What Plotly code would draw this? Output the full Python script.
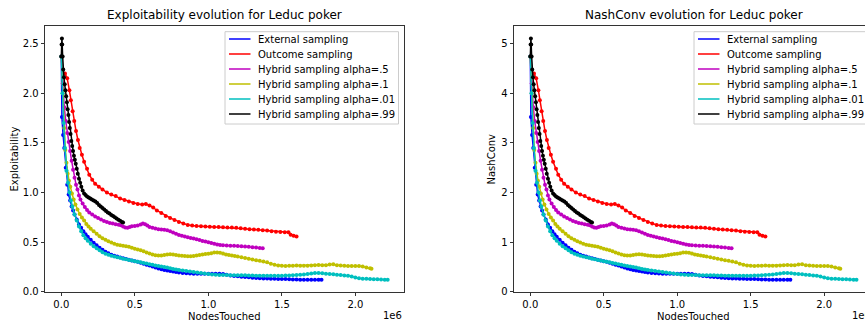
import plotly.graph_objects as go

# x values in millions of nodes touched, y = exploitability
external = [(0.000,2.37),(0.004,1.76),(0.012,1.58),(0.020,1.45),(0.030,1.25),(0.040,1.08),(0.050,0.98),(0.060,0.92),(0.070,0.86),(0.080,0.82),(0.090,0.78),(0.105,0.73),(0.120,0.68),(0.135,0.645),(0.150,0.61),(0.165,0.58),(0.180,0.555),(0.200,0.525),(0.220,0.495),(0.240,0.47),(0.260,0.445),(0.280,0.425),(0.300,0.405),(0.320,0.39),(0.340,0.375),(0.360,0.365),(0.380,0.357),(0.400,0.348),(0.420,0.34),(0.440,0.332),(0.460,0.324),(0.480,0.317),(0.500,0.31),(0.520,0.303),(0.540,0.295),(0.560,0.285),(0.580,0.275),(0.600,0.265),(0.620,0.255),(0.640,0.245),(0.660,0.236),(0.680,0.228),(0.700,0.221),(0.720,0.215),(0.740,0.21),(0.760,0.205),(0.780,0.2),(0.800,0.196),(0.825,0.192),(0.850,0.188),(0.875,0.185),(0.900,0.183),(0.925,0.183),(0.950,0.183),(0.975,0.183),(1.000,0.183),(1.025,0.184),(1.050,0.184),(1.075,0.183),(1.100,0.18),(1.125,0.174),(1.150,0.166),(1.175,0.16),(1.200,0.157),(1.225,0.154),(1.250,0.15),(1.275,0.147),(1.300,0.143),(1.325,0.14),(1.350,0.138),(1.375,0.136),(1.400,0.136),(1.425,0.134),(1.450,0.133),(1.475,0.131),(1.500,0.13),(1.525,0.13),(1.550,0.128),(1.575,0.126),(1.600,0.125),(1.625,0.124),(1.650,0.123),(1.675,0.123),(1.700,0.123),(1.725,0.123),(1.750,0.123),(1.770,0.123)]

outcome = [(0.025,2.20),(0.040,2.15),(0.055,2.03),(0.065,1.93),(0.077,1.82),(0.088,1.72),(0.100,1.62),(0.113,1.53),(0.125,1.45),(0.140,1.38),(0.155,1.31),(0.175,1.24),(0.190,1.18),(0.210,1.13),(0.230,1.09),(0.255,1.06),(0.280,1.03),(0.310,1.00),(0.340,0.98),(0.370,0.965),(0.400,0.94),(0.430,0.925),(0.460,0.91),(0.490,0.895),(0.520,0.885),(0.550,0.88),(0.575,0.885),(0.600,0.87),(0.625,0.85),(0.650,0.82),(0.680,0.795),(0.710,0.765),(0.740,0.745),(0.770,0.725),(0.800,0.705),(0.830,0.69),(0.860,0.675),(0.890,0.668),(0.920,0.665),(0.950,0.662),(0.980,0.66),(1.010,0.657),(1.040,0.655),(1.070,0.653),(1.100,0.652),(1.130,0.65),(1.160,0.648),(1.190,0.645),(1.220,0.64),(1.250,0.636),(1.280,0.632),(1.310,0.628),(1.340,0.625),(1.370,0.622),(1.400,0.618),(1.430,0.612),(1.460,0.607),(1.490,0.604),(1.520,0.602),(1.545,0.600),(1.560,0.575),(1.580,0.565),(1.600,0.557)]

hybrid_05 = [(0.000,2.37),(0.010,2.10),(0.020,1.86),(0.030,1.72),(0.040,1.60),(0.050,1.51),(0.060,1.42),(0.070,1.32),(0.080,1.23),(0.090,1.15),(0.100,1.08),(0.110,1.03),(0.120,0.97),(0.130,0.93),(0.145,0.89),(0.160,0.855),(0.175,0.825),(0.190,0.80),(0.210,0.78),(0.230,0.76),(0.250,0.745),(0.270,0.73),(0.290,0.715),(0.310,0.703),(0.330,0.695),(0.350,0.688),(0.370,0.682),(0.390,0.676),(0.405,0.672),(0.420,0.66),(0.435,0.648),(0.450,0.645),(0.465,0.655),(0.480,0.662),(0.500,0.665),(0.520,0.668),(0.540,0.68),(0.555,0.688),(0.570,0.682),(0.585,0.668),(0.600,0.655),(0.620,0.645),(0.640,0.638),(0.660,0.632),(0.680,0.628),(0.700,0.625),(0.720,0.62),(0.740,0.61),(0.760,0.598),(0.780,0.585),(0.800,0.574),(0.820,0.565),(0.840,0.557),(0.860,0.55),(0.880,0.543),(0.900,0.537),(0.920,0.53),(0.940,0.522),(0.960,0.514),(0.980,0.508),(1.000,0.5),(1.020,0.492),(1.040,0.485),(1.060,0.478),(1.080,0.473),(1.100,0.47),(1.125,0.467),(1.150,0.465),(1.175,0.464),(1.200,0.463),(1.225,0.46),(1.250,0.457),(1.275,0.454),(1.300,0.451),(1.325,0.447),(1.350,0.443),(1.370,0.44)]

hybrid_01 = [(0.000,2.37),(0.010,2.00),(0.020,1.65),(0.027,1.43),(0.035,1.30),(0.043,1.19),(0.052,1.12),(0.061,1.06),(0.072,0.99),(0.084,0.93),(0.096,0.88),(0.110,0.83),(0.125,0.785),(0.140,0.75),(0.155,0.72),(0.170,0.685),(0.185,0.66),(0.200,0.635),(0.220,0.61),(0.240,0.585),(0.260,0.56),(0.280,0.54),(0.300,0.525),(0.320,0.51),(0.340,0.497),(0.360,0.485),(0.380,0.476),(0.400,0.47),(0.420,0.465),(0.440,0.46),(0.460,0.455),(0.480,0.445),(0.500,0.436),(0.520,0.427),(0.540,0.42),(0.560,0.41),(0.580,0.398),(0.600,0.388),(0.620,0.378),(0.640,0.37),(0.660,0.367),(0.680,0.368),(0.700,0.372),(0.720,0.376),(0.740,0.379),(0.760,0.378),(0.780,0.373),(0.800,0.368),(0.820,0.365),(0.840,0.362),(0.860,0.36),(0.880,0.36),(0.900,0.362),(0.920,0.368),(0.940,0.373),(0.960,0.378),(0.980,0.382),(1.000,0.385),(1.020,0.39),(1.040,0.396),(1.060,0.398),(1.080,0.394),(1.100,0.387),(1.120,0.378),(1.140,0.372),(1.160,0.367),(1.180,0.362),(1.200,0.357),(1.225,0.35),(1.250,0.342),(1.275,0.335),(1.300,0.327),(1.325,0.32),(1.350,0.313),(1.375,0.307),(1.400,0.298),(1.425,0.285),(1.450,0.273),(1.475,0.267),(1.500,0.264),(1.525,0.262),(1.550,0.263),(1.575,0.264),(1.600,0.265),(1.625,0.264),(1.650,0.263),(1.675,0.263),(1.700,0.265),(1.725,0.268),(1.750,0.272),(1.775,0.27),(1.800,0.268),(1.825,0.276),(1.850,0.278),(1.875,0.27),(1.900,0.265),(1.925,0.263),(1.950,0.262),(1.975,0.262),(2.000,0.262),(2.025,0.26),(2.050,0.255),(2.075,0.247),(2.100,0.238),(2.110,0.233)]

hybrid_001 = [(0.000,2.37),(0.008,2.00),(0.016,1.70),(0.025,1.45),(0.035,1.22),(0.045,1.10),(0.055,1.00),(0.065,0.92),(0.075,0.86),(0.090,0.78),(0.105,0.72),(0.120,0.66),(0.135,0.61),(0.150,0.57),(0.165,0.54),(0.180,0.515),(0.200,0.485),(0.220,0.46),(0.240,0.44),(0.260,0.42),(0.280,0.40),(0.300,0.385),(0.320,0.375),(0.340,0.365),(0.360,0.358),(0.380,0.35),(0.400,0.343),(0.420,0.335),(0.440,0.328),(0.460,0.322),(0.480,0.316),(0.500,0.31),(0.520,0.304),(0.540,0.298),(0.560,0.292),(0.580,0.287),(0.600,0.28),(0.620,0.273),(0.640,0.266),(0.660,0.26),(0.680,0.255),(0.700,0.25),(0.720,0.245),(0.740,0.239),(0.760,0.232),(0.780,0.227),(0.800,0.222),(0.825,0.216),(0.850,0.21),(0.875,0.205),(0.900,0.2),(0.925,0.195),(0.950,0.19),(0.975,0.185),(1.000,0.18),(1.025,0.176),(1.050,0.173),(1.075,0.171),(1.100,0.17),(1.125,0.17),(1.150,0.169),(1.175,0.168),(1.200,0.168),(1.225,0.168),(1.250,0.168),(1.275,0.166),(1.300,0.165),(1.325,0.164),(1.350,0.163),(1.375,0.163),(1.400,0.163),(1.425,0.162),(1.450,0.162),(1.475,0.163),(1.500,0.164),(1.525,0.165),(1.550,0.166),(1.575,0.167),(1.600,0.17),(1.625,0.173),(1.650,0.176),(1.675,0.18),(1.700,0.185),(1.725,0.19),(1.750,0.19),(1.775,0.187),(1.800,0.184),(1.825,0.18),(1.850,0.177),(1.875,0.174),(1.900,0.17),(1.925,0.166),(1.950,0.163),(1.975,0.155),(2.000,0.145),(2.025,0.137),(2.050,0.134),(2.075,0.132),(2.100,0.13),(2.125,0.129),(2.150,0.128),(2.175,0.126),(2.200,0.124),(2.220,0.123)]

hybrid_099 = [(0.000,2.37),(0.002,2.49),(0.004,2.55),(0.006,2.49),(0.009,2.37),(0.013,2.24),(0.018,2.16),(0.023,2.09),(0.028,2.03),(0.033,1.97),(0.038,1.91),(0.043,1.84),(0.048,1.78),(0.053,1.71),(0.058,1.65),(0.063,1.59),(0.068,1.52),(0.074,1.47),(0.080,1.42),(0.086,1.37),(0.092,1.33),(0.098,1.29),(0.105,1.24),(0.112,1.19),(0.120,1.14),(0.128,1.10),(0.136,1.06),(0.145,1.02),(0.155,0.99),(0.165,0.975),(0.175,0.96),(0.186,0.95),(0.197,0.94),(0.208,0.93),(0.220,0.92),(0.232,0.91),(0.244,0.895),(0.256,0.875),(0.268,0.86),(0.280,0.845),(0.292,0.83),(0.304,0.815),(0.316,0.80),(0.328,0.79),(0.340,0.775),(0.352,0.765),(0.364,0.752),(0.376,0.74),(0.388,0.728),(0.400,0.716),(0.412,0.705),(0.420,0.70)]

series_names = ["External sampling", "Outcome sampling", "Hybrid sampling alpha=.5",
                "Hybrid sampling alpha=.1", "Hybrid sampling alpha=.01", "Hybrid sampling alpha=.99"]
series_data = [external, outcome, hybrid_05, hybrid_01, hybrid_001, hybrid_099]
series_colors = ["#0000ff", "#ff0000", "#bf00bf", "#bfbf00", "#00bfbf", "#000000"]

x_ticks = [0.0, 0.5, 1.0, 1.5, 2.0]
y_ticks_expl = [0.0, 0.5, 1.0, 1.5, 2.0, 2.5]
y_ticks_nash = [0, 1, 2, 3, 4, 5]

FONT = "DejaVu Sans"
W, H = 865, 324
ML, MR, MT, MB = 45, 0, 26, 32
PW, PH = W - ML - MR, H - MT - MB
OFFSET = 469  # horizontal pixel offset of the right panel

def px(xp):
    return (xp - ML) / PW

def py(yp):
    return (H - MB - yp) / PH

fig = go.Figure()
for name, data, color in zip(series_names, series_data, series_colors):
    xs = [p[0] for p in data]
    ys = [p[1] for p in data]
    # NashConv of a two-player zero-sum game is twice its exploitability
    ys_nash = [2 * v for v in ys]
    fig.add_trace(go.Scatter(x=xs, y=ys, mode="lines+markers", name=name,
                             line=dict(color=color, width=1.5),
                             marker=dict(color=color, size=4),
                             xaxis="x", yaxis="y", showlegend=False))
    fig.add_trace(go.Scatter(x=xs, y=ys_nash, mode="lines+markers", name=name,
                             line=dict(color=color, width=1.5),
                             marker=dict(color=color, size=4),
                             xaxis="x2", yaxis="y2", showlegend=False))

axis_common = dict(showgrid=False, zeroline=False, showline=True, linecolor="#000000",
                   linewidth=0.8, ticks="outside", ticklen=3.5, tickwidth=0.8,
                   tickcolor="#000000", tickfont=dict(family=FONT, size=10, color="#000000"))

fig.update_layout(
    width=W, height=H,
    margin=dict(l=ML, r=MR, t=MT, b=MB, autoexpand=False),
    paper_bgcolor="white", plot_bgcolor="white",
    font=dict(family=FONT, size=10, color="#000000"),
    xaxis=dict(domain=[0, px(404)], range=[-0.111, 2.331], tickvals=x_ticks,
               ticktext=[f"{v:.1f}" for v in x_ticks], mirror=True, anchor="y", **axis_common),
    yaxis=dict(domain=[0, 1], range=[-0.0005, 2.677], tickvals=y_ticks_expl,
               ticktext=[f"{v:.1f}" for v in y_ticks_expl], mirror=True, anchor="x", **axis_common),
    xaxis2=dict(domain=[px(45 + OFFSET), 1.0], range=[-0.111, 2.278], tickvals=x_ticks,
                ticktext=[f"{v:.1f}" for v in x_ticks], mirror=True, anchor="y2", **axis_common),
    yaxis2=dict(domain=[0, 1], range=[-0.001, 5.354], tickvals=y_ticks_nash,
                ticktext=[str(v) for v in y_ticks_nash], mirror=False, anchor="x2", **axis_common),
    showlegend=False,
)

ann = []
shapes = []
def add_text(text, xp, yp, size=10, angle=0, xanchor="center"):
    ann.append(dict(text=text, x=px(xp), y=py(yp), xref="paper", yref="paper",
                    xanchor=xanchor, yanchor="middle", showarrow=False, textangle=angle,
                    font=dict(family=FONT, size=size, color="#000000")))

add_text("Exploitability evolution for Leduc poker", 224.5, 15, size=12)
add_text("NashConv evolution for Leduc poker", 224.5 + OFFSET, 15, size=12)
add_text("NodesTouched", 224.5, 316.5)
add_text("NodesTouched", 224.5 + OFFSET, 316.5)
add_text("Exploitability", 13.5, 159, angle=-90)
add_text("NashConv", 490.5, 159, angle=-90)
add_text("1e6", 404, 315.5, xanchor="right")
add_text("1e6", 404 + OFFSET, 315.5, xanchor="right")

# legend boxes (one per panel), matplotlib-style
for off in (0, OFFSET):
    shapes.append(dict(type="rect", xref="paper", yref="paper",
                       x0=px(225 + off), x1=px(398.5 + off), y0=py(124), y1=py(31.7),
                       line=dict(color="#cccccc", width=1),
                       fillcolor="rgba(255,255,255,0.8)", layer="above"))
    for i, (name, color) in enumerate(zip(series_names, series_colors)):
        yrow = 39 + 15 * i
        shapes.append(dict(type="line", xref="paper", yref="paper",
                           x0=px(229 + off), x1=px(250.5 + off), y0=py(yrow), y1=py(yrow),
                           line=dict(color=color, width=1.5), layer="above"))
        add_text(name, 256.3 + off, yrow, xanchor="left")

fig.update_layout(annotations=ann, shapes=shapes)

fig.write_html("out.html", config={"displayModeBar": False, "staticPlot": True},
               post_script="document.body.style.margin='0';document.body.style.overflow='hidden';")
